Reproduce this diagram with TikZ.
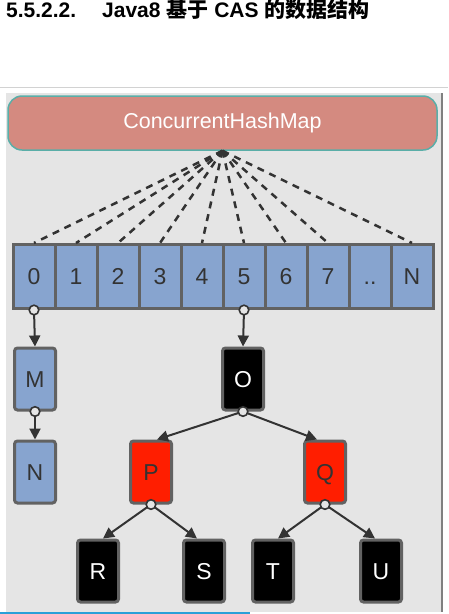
\documentclass[tikz,border=0pt]{standalone}
\usepackage{fontspec}
\setmainfont{Liberation Sans}
\newfontfamily\cjkfont{Noto Sans CJK SC}
\usetikzlibrary{shapes,arrows.meta,positioning}

\definecolor{panel}{HTML}{E5E5E5}
\definecolor{mapfill}{HTML}{D48A80}
\definecolor{mapline}{HTML}{5AAEA8}
\definecolor{cellblue}{HTML}{87A4CF}
\definecolor{boxline}{HTML}{626262}
\definecolor{inkgray}{HTML}{333333}
\definecolor{redbox}{HTML}{FF1E00}
\definecolor{sheetgray}{HTML}{D2D2D2}
\definecolor{screenblue}{HTML}{2AA0D8}

\begin{document}
\begin{tikzpicture}[
    x=1pt, y=-1pt,
    heading/.style={inner sep=0pt, font=\fontsize{21}{25}\selectfont\bfseries},
    mapbox/.style={rectangle, draw=mapline, fill=mapfill, line width=1.5pt, rounded corners=14pt, minimum width=429pt, minimum height=54pt, text=white, font=\fontsize{21.5}{26}\selectfont},
    bucket/.style={rectangle, draw=boxline, fill=cellblue, line width=3pt, minimum width=42pt, minimum height=64pt, text height=16pt, text depth=0pt, text=inkgray, font=\fontsize{23}{27}\selectfont},
    listnode/.style={rectangle, draw=boxline, fill=cellblue, line width=3pt, rounded corners=3pt, minimum width=41pt, minimum height=62pt, text height=16pt, text depth=0pt, text=inkgray, font=\fontsize{23}{27}\selectfont},
    blacknode/.style={listnode, fill=black, text=white},
    rednode/.style={listnode, fill=redbox, text=inkgray},
    fan/.style={draw=inkgray, line width=2.5pt, dash pattern=on 7pt off 6pt},
    arrow/.style={draw=inkgray, line width=2pt, -{Triangle[length=11pt,width=11pt]}},
    knob/.style={draw=inkgray, line width=1.6pt, fill=panel}
  ]
  \useasboundingbox (0,0) rectangle (448,614);

  % Heading
  \node[heading, anchor=base west] (secnum) at (6,17.5) {5.5.2.2.};
  \node[heading, anchor=base west] (title) at (102,17.5) {Java8 {\cjkfont 基于} CAS {\cjkfont 的数据结构}};

  % Slide background
  \draw[sheetgray, line width=1pt] (0,87) -- (448,87);
  \fill[panel] (6,93) rectangle (442,612);
  \draw[gray, line width=1.5pt] (442,93) -- (442,612);
  \draw[screenblue, line width=2pt] (0,612.5) -- (250,612.5);

  % Map header
  \node[mapbox] (map) at (222.5,123) {ConcurrentHashMap};

  % Bucket array
  \foreach \lbl [count=\i from 0] in {0,1,2,3,4,5,6,7,{..},N}
    \node[bucket] (c\i) at (34+42*\i,276.5) {\lbl};

  % Dashed fan from the map to the buckets
  \foreach \i in {0,...,7,9}
    \draw[fan] (map.south) -- (c\i.north);

  % Linked list in bucket 0
  \node[listnode] (m) at (35,379) {M};
  \node[listnode] (n) at (35,472) {N};

  % Red-black tree in bucket 5
  \node[blacknode] (o) at (243,379) {O};
  \node[rednode] (p) at (151,472) {P};
  \node[rednode] (q) at (325,472) {Q};
  \node[blacknode] (r) at (98,571) {R};
  \node[blacknode] (s) at (204,571) {S};
  \node[blacknode] (t) at (273,571) {T};
  \node[blacknode] (u) at (381,571) {U};

  % Arrows
  \draw[arrow] (c0.south) -- (m.north);
  \draw[arrow] (m.south) -- (n.north);
  \draw[arrow] (c5.south) -- (o.north);
  \draw[arrow] (o.south) -- ([xshift=6pt]p.north);
  \draw[arrow] (o.south) -- ([xshift=-8pt]q.north);
  \draw[arrow] (p.south) -- ([xshift=5pt]r.north);
  \draw[arrow] (p.south) -- ([xshift=-7pt]s.north);
  \draw[arrow] (q.south) -- ([xshift=5pt]t.north);
  \draw[arrow] (q.south) -- ([xshift=-6pt]u.north);

  % Link knobs
  \foreach \k in {c0,c5,m,o,p,q}
    \draw[knob] (\k.south) circle (4.8pt);

\end{tikzpicture}
\end{document}
